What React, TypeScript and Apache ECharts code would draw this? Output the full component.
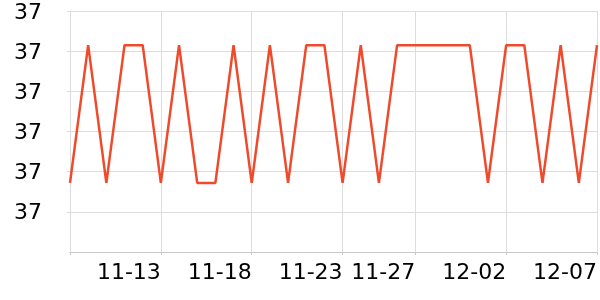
import React, { useEffect, useRef } from "react";
import * as echarts from "echarts";

const dates: string[] = [
  "11-08", "11-09", "11-10", "11-11", "11-12", "11-13", "11-14", "11-15", "11-16", "11-17",
  "11-18", "11-19", "11-20", "11-21", "11-22", "11-23", "11-24", "11-25", "11-26", "11-27",
  "11-28", "11-29", "11-30", "12-01", "12-02", "12-03", "12-04", "12-05", "12-06", "12-07",
];

const temperature: number[] = [
  36.772, 37.115, 36.772, 37.115, 37.115, 36.772, 37.115, 36.772, 36.772, 37.115,
  36.772, 37.115, 36.772, 37.115, 37.115, 36.772, 37.115, 36.772, 37.115, 37.115,
  37.115, 37.115, 37.115, 36.772, 37.115, 37.115, 36.772, 37.115, 36.772, 37.115,
];

const labelIndices: number[] = [5, 10, 15, 19, 24, 29];
const tickIndices: number[] = [0, 5, 10, 15, 19, 24, 29];

export default function App() {
  const ref = useRef<HTMLDivElement>(null);
  useEffect(() => {
    if (!ref.current) return;
    const chart = echarts.init(ref.current, undefined, { renderer: "svg" });
    chart.setOption({
      animation: false,
      grid: { left: 70, right: 0, top: 10, bottom: 48, containLabel: false },
      xAxis: {
        type: "category",
        data: dates,
        boundaryGap: false,
        axisLine: { lineStyle: { color: "#c8c8c8", width: 1 } },
        axisTick: {
          length: 3,
          interval: (i: number) => tickIndices.includes(i),
          lineStyle: { color: "#c8c8c8" },
        },
        axisLabel: {
          interval: (i: number) => labelIndices.includes(i),
          align: "right",
          fontSize: 22,
          color: "#000",
          margin: 8,
          fontFamily: "DejaVu Sans",
        },
        splitLine: {
          show: true,
          interval: (i: number) => tickIndices.includes(i),
          lineStyle: { color: "#dcdcdc", width: 1 },
        },
      },
      yAxis: {
        type: "value",
        min: 36.6,
        max: 37.2,
        interval: 0.1,
        axisLine: { show: true, lineStyle: { color: "#dcdcdc" } },
        axisTick: { show: true, length: 3, lineStyle: { color: "#dcdcdc" } },
        axisLabel: {
          fontSize: 22,
          color: "#000",
          margin: 28,
          showMinLabel: false,
          fontFamily: "DejaVu Sans",
          formatter: (v: number) => Math.round(v).toString(),
        },
        splitLine: { lineStyle: { color: "#dcdcdc", width: 1 } },
      },
      series: [
        {
          type: "line",
          data: temperature,
          symbol: "none",
          lineStyle: { color: "#ef4a2b", width: 2.5 },
          itemStyle: { color: "#ef4a2b" },
        },
      ],
    });
    return () => chart.dispose();
  }, []);
  return (
    <div
      ref={ref}
      style={{ position: "fixed", left: 0, top: 0, width: 600, height: 300 }}
    />
  );
}
